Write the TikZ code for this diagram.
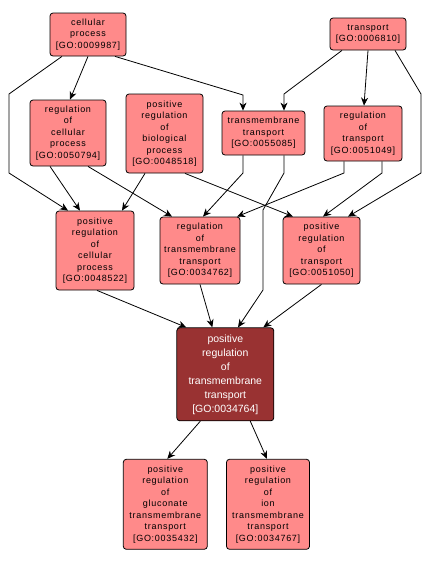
\documentclass[tikz,border=0pt]{standalone}
\usepackage{fontspec}
\setmainfont{Liberation Sans}
\newfontfamily\termfont[LetterSpace=8]{Liberation Sans}
\usepackage{tikz}
\usetikzlibrary{arrows.meta}
\definecolor{termfill}{RGB}{255,138,138}
\definecolor{focusfill}{RGB}{153,50,50}
\tikzset{term/.style={draw=black, line width=0.8pt, fill=termfill, rounded corners=3pt, align=center,
  inner sep=0pt, font=\termfont\fontsize{9}{11.5}\selectfont},
 focus/.style={term, fill=focusfill, text=white, font=\fontsize{10.5}{14}\selectfont},
 edge/.style={draw=black, line width=0.8pt, -{Stealth[length=8pt,width=7pt,inset=2.5pt]}},
 }

\begin{document}
\begin{tikzpicture}[x=1pt,y=-1pt]
    \useasboundingbox (0,0) rectangle (432,563);
    % top row
    \node[term, minimum width=76pt, minimum height=43pt] (cp) at (88,34.5)
        {cellular\\process\\{[GO:0009987]}};
    \node[term, minimum width=76pt, minimum height=32pt] (tr) at (368,34)
        {transport\\{[GO:0006810]}};
    % second row
    \node[term, minimum width=76pt, minimum height=66pt] (rcp) at (68,133)
        {regulation\\of\\cellular\\process\\{[GO:0050794]}};
    \node[term, minimum width=77pt, minimum height=79pt] (prbp) at (164.5,133.5)
        {positive\\regulation\\of\\biological\\process\\{[GO:0048518]}};
    \node[term, minimum width=83pt, minimum height=44pt] (tt) at (263.5,133)
        {transmembrane\\transport\\{[GO:0055085]}};
    \node[term, minimum width=78pt, minimum height=55pt] (rt) at (363,133.5)
        {regulation\\of\\transport\\{[GO:0051049]}};
    % third row
    \node[term, minimum width=78pt, minimum height=79pt] (prcp) at (95,250.5)
        {positive\\regulation\\of\\cellular\\process\\{[GO:0048522]}};
    \node[term, minimum width=80pt, minimum height=67pt] (rtt) at (200,250.5)
        {regulation\\of\\transmembrane\\transport\\{[GO:0034762]}};
    \node[term, minimum width=77pt, minimum height=67pt] (prt) at (321.5,250.5)
        {positive\\regulation\\of\\transport\\{[GO:0051050]}};
    % focus term
    \node[focus, minimum width=97pt, minimum height=93pt] (prtt) at (225.3,374.3)
        {positive\\regulation\\of\\transmembrane\\transport\\{[GO:0034764]}};
    % children
    \node[term, minimum width=84pt, minimum height=90pt] (prgt) at (165.3,504.3)
        {positive\\regulation\\of\\gluconate\\transmembrane\\transport\\{[GO:0035432]}};
    \node[term, minimum width=83pt, minimum height=90pt] (prit) at (268,504.3)
        {positive\\regulation\\of\\ion\\transmembrane\\transport\\{[GO:0034767]}};
    % bends
    \coordinate (k1) at (243,95);
    \coordinate (k2) at (9,94);
    \coordinate (k3) at (9,173);
    \coordinate (k4) at (284,94);
    \coordinate (k5) at (421,94);
    \coordinate (k6) at (421,173);
    \coordinate (k7) at (243,173);
    \coordinate (k8) at (284,173);
    \coordinate (k9) at (263,210);
    \coordinate (k10) at (263,290);
    \coordinate (k11) at (344,173);
    \coordinate (k12) at (382,173);
    % edges
    \draw[edge] (cp.south) -- ([xshift=2pt]rcp.north);
    \draw[edge] ([xshift=27pt]cp.south) -- (k1) -- ([xshift=-20.5pt]tt.north);
    \draw[edge] ([xshift=-26pt]cp.south) -- (k2) -- (k3) -- ([xshift=-27pt]prcp.north);
    \draw[edge] ([xshift=-26pt]tr.south) -- (k4) -- ([xshift=20.5pt]tt.north);
    \draw[edge] (tr.south) -- ([xshift=1pt]rt.north);
    \draw[edge] ([xshift=27pt]tr.south) -- (k5) -- (k6) -- ([xshift=26.5pt]prt.north);
    \draw[edge] ([xshift=-18pt]rcp.south) -- ([xshift=-15pt]prcp.north);
    \draw[edge] ([xshift=20pt]rcp.south) -- ([xshift=-28pt]rtt.north);
    \draw[edge] ([xshift=-19.5pt]prbp.south) -- ([xshift=27pt]prcp.north);
    \draw[edge] ([xshift=20.5pt]prbp.south) -- ([xshift=-28.5pt]prt.north);
    \draw[edge] ([xshift=-20.5pt]tt.south) -- (k7) -- ([xshift=3pt]rtt.north);
    \draw[edge] ([xshift=20.5pt]tt.south) -- (k8) -- (k9) -- (k10) -- ([xshift=12.7pt]prtt.north);
    \draw[edge] ([xshift=-19pt]rt.south) -- (k11) -- ([xshift=37pt]rtt.north);
    \draw[edge] ([xshift=19pt]rt.south) -- (k12) -- ([xshift=1.5pt]prt.north);
    \draw[edge] ([xshift=2pt]prcp.south) -- ([xshift=-39pt]prtt.north);
    \draw[edge] (rtt.south) -- ([xshift=-13pt]prtt.north);
    \draw[edge] (prt.south) -- ([xshift=38pt]prtt.north);
    \draw[edge] ([xshift=-25pt]prtt.south) -- ([xshift=2pt]prgt.north);
    \draw[edge] ([xshift=25pt]prtt.south) -- ([xshift=-1pt]prit.north);
\end{tikzpicture}
\end{document}
